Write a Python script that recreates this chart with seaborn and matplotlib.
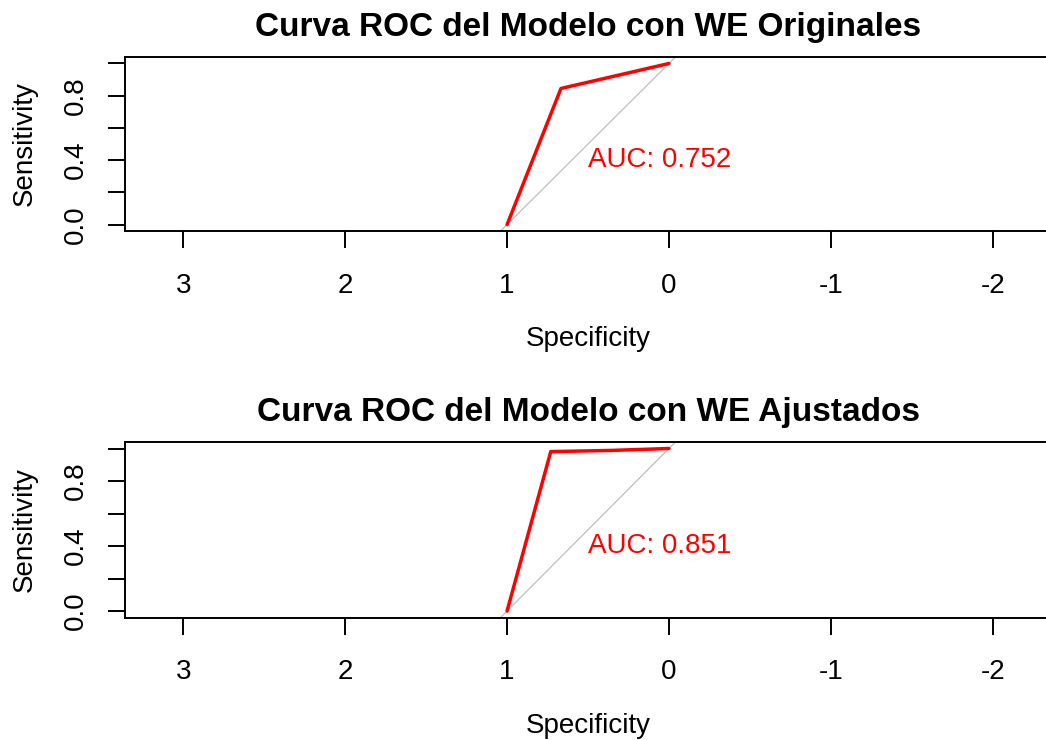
import matplotlib
matplotlib.use("Agg")
import matplotlib.pyplot as plt
import seaborn as sns
import pandas as pd

# ROC points (specificity, sensitivity)
spec_orig = [1.0, 0.667, 0.0]
sens_orig = [0.0, 0.845, 1.0]
spec_adj = [1.0, 0.73, 0.364, 0.364, 0.0]
sens_adj = [0.0, 0.981, 0.981, 0.995, 1.0]

titles = ["Curva ROC del Modelo con WE Originales", "Curva ROC del Modelo con WE Ajustados"]
auc_labels = ["AUC: 0.752", "AUC: 0.851"]

x_ticks = [3, 2, 1, 0, -1, -2]
y_ticks = [0.0, 0.2, 0.4, 0.6, 0.8, 1.0]
y_ticklabels = ["0.0", "", "0.4", "", "0.8", ""]

sns.set_style("ticks")
plt.rcParams["font.family"] = ["Liberation Sans", "DejaVu Sans"]
plt.rcParams["text.color"] = "black"
plt.rcParams["axes.labelcolor"] = "black"

fig = plt.figure(figsize=(10.46, 7.40), dpi=100)
# axes run slightly past the right edge, like the R device output
positions = [[0.1195, 0.6878, 0.8853, 0.2351], [0.1195, 0.1655, 0.8853, 0.2372]]

curves = [(spec_orig, sens_orig), (spec_adj, sens_adj)]
for i, (spec, sens) in enumerate(curves):
    ax = fig.add_axes(positions[i])
    df = pd.DataFrame({"Specificity": spec, "Sensitivity": sens})
    ax.axline((1, 0), (0, 1), color="#BEBEBE", lw=0.9, zorder=1)
    sns.lineplot(data=df, x="Specificity", y="Sensitivity", sort=False,
                 color="red", lw=2.5, ax=ax, zorder=3)
    ax.text(0.5, 0.4, auc_labels[i], color="red", fontsize=20,
            ha="left", va="center")
    ax.set_xlim(3.36, -2.36)
    ax.set_ylim(-0.04, 1.04)
    ax.set_xticks(x_ticks)
    ax.set_xticklabels([str(t) for t in x_ticks])
    ax.set_yticks(y_ticks)
    ax.set_yticklabels(y_ticklabels, rotation=90, va="center")
    ax.tick_params(axis="both", length=12, width=1.4, labelsize=20, colors="black")
    ax.tick_params(axis="x", pad=18)
    ax.tick_params(axis="y", pad=14)
    for s in ax.spines.values():
        s.set_linewidth(1.4)
        s.set_color("black")
    ax.set_xlabel("Specificity", fontsize=20, labelpad=20)
    ax.set_ylabel("Sensitivity", fontsize=20, labelpad=18)
    ax.set_title(titles[i], fontsize=24, fontweight="bold", pad=15, color="black")

fig.savefig("out.png", dpi=100)
